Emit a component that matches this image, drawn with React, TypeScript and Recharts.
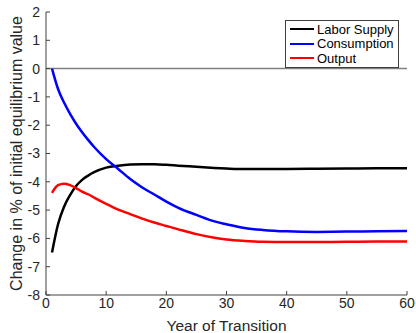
import { LineChart, Line, XAxis, YAxis, ReferenceLine, Legend } from 'recharts';

const years = [1, 2, 3, 4, 5, 6, 7, 8, 10, 12, 14, 16, 18, 20, 22, 25, 28, 30, 33, 36, 40, 45, 50, 55, 60];
const laborSupply = [-6.5, -5.5, -4.88, -4.47, -4.15, -3.93, -3.78, -3.66, -3.5, -3.43, -3.39, -3.38, -3.38, -3.4, -3.43, -3.47, -3.51, -3.53, -3.55, -3.55, -3.55, -3.54, -3.53, -3.52, -3.52];
const consumption = [0, -0.72, -1.2, -1.6, -1.95, -2.25, -2.52, -2.77, -3.2, -3.55, -3.9, -4.2, -4.45, -4.7, -4.92, -5.17, -5.4, -5.5, -5.63, -5.7, -5.75, -5.77, -5.76, -5.75, -5.74];
const output = [-4.39, -4.12, -4.07, -4.12, -4.22, -4.35, -4.44, -4.56, -4.78, -4.98, -5.14, -5.3, -5.44, -5.56, -5.68, -5.85, -5.98, -6.04, -6.09, -6.12, -6.13, -6.13, -6.12, -6.11, -6.11];

const seriesNames = ['Labor Supply', 'Consumption', 'Output'];
const xTicks = [0, 10, 20, 30, 40, 50, 60];
const yTicks = [-8, -7, -6, -5, -4, -3, -2, -1, 0, 1, 2];

const data = years.map((year, i) => ({
  year,
  labor: laborSupply[i],
  consumption: consumption[i],
  output: output[i],
}));

const font = '"Liberation Sans", Arial, Helvetica, sans-serif';
const axisColor = '#404040';
const textColor = '#262626';

const LegendBox = ({ payload }: any) => {
  const items = [...(payload || [])].sort(
    (a: any, b: any) => seriesNames.indexOf(a.value) - seriesNames.indexOf(b.value)
  );
  return (
    <div
      style={{
        border: `1px solid ${axisColor}`,
        background: '#fff',
        padding: '1px 4px 1px 4px',
        width: 104,
        fontFamily: font,
        fontSize: 13,
        color: '#000',
      }}
    >
      {items.map((p: any) => (
        <div key={p.value} style={{ display: 'flex', alignItems: 'center', height: 14.5 }}>
          <span style={{ flexShrink: 0, width: 24, height: 0, borderTop: `2.5px solid ${p.color}`, marginRight: 3 }} />
          <span style={{ whiteSpace: 'nowrap' }}>{p.value}</span>
        </div>
      ))}
    </div>
  );
};

export default function App() {
  const tickStyle = { fill: textColor, fontSize: 14, fontFamily: font };
  return (
    <div style={{ position: 'absolute', left: 0, top: 0, background: '#fff' }}>
      <LineChart
        width={416}
        height={333}
        data={data}
        margin={{ top: 12, right: 9, left: 0, bottom: 0 }}
      >
        <XAxis
          dataKey="year"
          type="number"
          domain={[0, 60]}
          ticks={xTicks}
          tickSize={-4}
          tickMargin={7}
          height={38}
          stroke={axisColor}
          tick={tickStyle}
          label={{ value: 'Year of Transition', position: 'insideBottom', offset: 2, fill: textColor, fontSize: 15.5, fontFamily: font }}
        />
        <XAxis
          xAxisId="top"
          orientation="top"
          type="number"
          domain={[0, 60]}
          ticks={xTicks}
          tickSize={-4}
          height={0}
          stroke={axisColor}
          tickFormatter={() => ''}
        />
        <YAxis
          type="number"
          domain={[-8, 2]}
          ticks={yTicks}
          tickSize={-4}
          tickMargin={10}
          width={46}
          stroke={axisColor}
          tick={tickStyle}
          label={{
            value: 'Change in % of initial equilibrium value',
            angle: -90,
            position: 'insideLeft',
            offset: 16,
            fill: textColor,
            fontSize: 16,
            fontFamily: font,
            style: { textAnchor: 'middle' },
          }}
        />
        <YAxis
          yAxisId="right"
          orientation="right"
          type="number"
          domain={[-8, 2]}
          ticks={yTicks}
          tickSize={-4}
          width={0}
          stroke={axisColor}
          tickFormatter={() => ''}
        />
        <ReferenceLine y={0} stroke="#808080" strokeWidth={1.5} />
        <Legend
          layout="vertical"
          align="center"
          verticalAlign="middle"
          content={LegendBox}
          wrapperStyle={{ left: 285, top: 20, width: 'auto', height: 'auto' }}
        />
        <Line type="monotone" dataKey="labor" name="Labor Supply" stroke="#000000" strokeWidth={2.5} dot={false} isAnimationActive={false} />
        <Line type="monotone" dataKey="consumption" name="Consumption" stroke="#0000ff" strokeWidth={2.5} dot={false} isAnimationActive={false} />
        <Line type="monotone" dataKey="output" name="Output" stroke="#ff0000" strokeWidth={2.5} dot={false} isAnimationActive={false} />
      </LineChart>
    </div>
  );
}
